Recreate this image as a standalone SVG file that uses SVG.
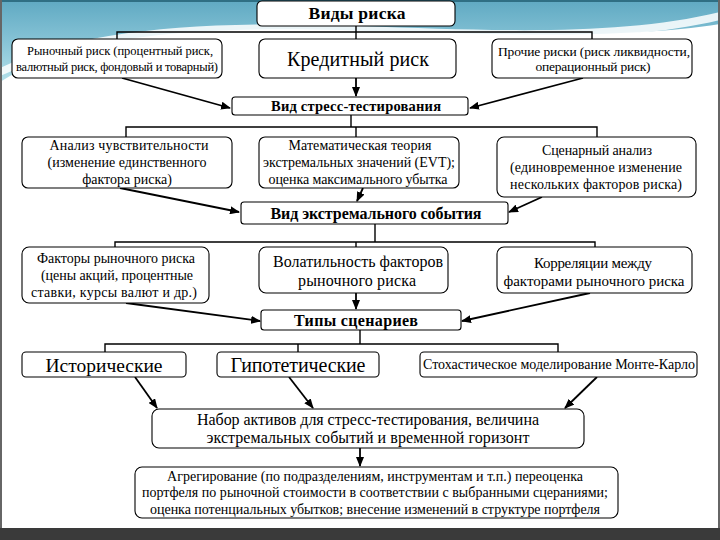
<svg xmlns="http://www.w3.org/2000/svg" width="720" height="540" viewBox="0 0 720 540">
<defs>
<linearGradient id="sky" x1="0" y1="0" x2="0" y2="1">
<stop offset="0" stop-color="#5fa9c2"/>
<stop offset="0.5" stop-color="#86c3d6"/>
<stop offset="1" stop-color="#b4e0ea"/>
</linearGradient>
<marker id="ah" markerUnits="userSpaceOnUse" markerWidth="10" markerHeight="8" refX="9" refY="4" orient="auto">
<path d="M0,0 L10,4 L0,8 z" fill="#000"/>
</marker>
<style>
.box{fill:#fff;stroke:#000;stroke-width:1.1}
.t{text-anchor:middle;fill:#000}
.b{font-weight:bold}
.tree{fill:none;stroke:#000;stroke-width:1.4}
.arr{fill:none;stroke:#000;stroke-width:1.8;marker-end:url(#ah)}
</style>
</defs>
<rect x="0" y="0" width="720" height="540" fill="#fff"/>
<path d="M0,0 H720 V24 C620,40 480,34 340,30 C190,26 70,36 0,82 Z" fill="url(#sky)"/>
<path d="M0,68 C80,30 200,20 360,26 C500,31 620,36 720,12 L720,20 C620,44 500,37 360,33 C200,28 90,38 0,76 Z" fill="#fff" opacity="0.85"/>
<path d="M380,34 C520,40 640,34 720,30 L720,36 C640,44 520,46 380,34 Z" fill="#fff" opacity="0.5"/>
<rect x="0" y="0" width="720" height="2" fill="#2f6f84"/>
<rect x="0" y="0" width="2" height="540" fill="#666"/>
<rect x="718" y="0" width="2" height="540" fill="#666"/>
<rect x="0" y="528" width="720" height="12" fill="#3a3a3a"/>

<g id="connectors">
<path class="tree" d="M356,26 V32 M117,39 V32 H592 V39 M356,32 V39"/>
<path class="arr" d="M122,78 L230,108"/>
<path class="arr" d="M356,78 V96"/>
<path class="arr" d="M583,78 L470,108"/>
<path class="tree" d="M351,115 V127 M126,137 V127 H597 V137 M356,127 V137"/>
<path class="arr" d="M120,188 L239,212"/>
<path class="arr" d="M363,188 L357,201"/>
<path class="arr" d="M542,197 L509,212"/>
<path class="tree" d="M375,224 V242 M115,247 V242 H595 V247 M356,242 V247"/>
<path class="arr" d="M126,303 L260,321"/>
<path class="arr" d="M356,293 V309"/>
<path class="arr" d="M590,293 L462,321"/>
<path class="tree" d="M360,330 V344 M105,352 V344 H558 V352 M298,344 V352"/>
<path class="arr" d="M135,377 L157,408"/>
<path class="arr" d="M289,377 L313,408"/>
<path class="arr" d="M597,377 L565,408"/>
<path class="arr" d="M360,448 V466"/>
</g>

<g id="nodes" font-family="Liberation Serif, Times New Roman, DejaVu Serif, serif">
<g id="n-vidy">
<rect class="box" x="257" y="1" width="198" height="25" rx="5"/>
<text class="t b" x="357" y="19" font-size="17.5" textLength="97">Виды риска</text>
</g>
<g id="n-market">
<rect class="box" x="12" y="39" width="210" height="39" rx="6"/>
<text class="t" x="120" y="55" font-size="12.5" textLength="186">Рыночный риск (процентный риск,</text>
<text class="t" x="117" y="71" font-size="12.5" textLength="202">валютный риск, фондовый и товарный)</text>
</g>
<g id="n-credit">
<rect class="box" x="259" y="39" width="197" height="39" rx="6"/>
<text class="t" x="358" y="66" font-size="20" textLength="142">Кредитный риск</text>
</g>
<g id="n-other">
<rect class="box" x="492" y="39" width="200" height="39" rx="6"/>
<text class="t" x="594" y="56" font-size="13.5" textLength="192">Прочие риски (риск ликвидности,</text>
<text class="t" x="593" y="71" font-size="13.5" textLength="115">операционный риск)</text>
</g>
<g id="n-stress">
<rect class="box" x="232" y="97" width="236" height="18" rx="3"/>
<text class="t b" x="356" y="111" font-size="14.5" textLength="170">Вид стресс-тестирования</text>
</g>
<g id="n-sens">
<rect class="box" x="22" y="137" width="210" height="51" rx="6"/>
<text class="t" x="129" y="150" font-size="14" textLength="159">Анализ чувствительности</text>
<text class="t" x="127" y="167" font-size="14" textLength="159">(изменение единственного</text>
<text class="t" x="127" y="184" font-size="14">фактора риска)</text>
</g>
<g id="n-evt">
<rect class="box" x="259" y="137" width="200" height="51" rx="6"/>
<text class="t" x="360" y="150" font-size="14" textLength="143">Математическая теория</text>
<text class="t" x="359" y="167" font-size="14" textLength="192">экстремальных значений (EVT);</text>
<text class="t" x="358" y="184" font-size="14" textLength="179">оценка максимального убытка</text>
</g>
<g id="n-scen">
<rect class="box" x="497" y="137" width="199" height="60" rx="7"/>
<text class="t" x="597" y="155" font-size="14" textLength="110">Сценарный анализ</text>
<text class="t" x="596" y="172" font-size="14" textLength="172">(единовременное изменение</text>
<text class="t" x="596" y="189" font-size="14" textLength="172">нескольких факторов риска)</text>
</g>
<g id="n-extreme">
<rect class="box" x="241" y="202" width="267" height="22" rx="3"/>
<text class="t b" x="376" y="219" font-size="16" textLength="211">Вид экстремального события</text>
</g>
<g id="n-factors">
<rect class="box" x="22" y="247" width="187" height="56" rx="7"/>
<text class="t" x="116" y="263" font-size="14" textLength="158">Факторы рыночного риска</text>
<text class="t" x="117" y="280" font-size="14" textLength="152">(цены акций, процентные</text>
<text class="t" x="114" y="297" font-size="14" textLength="166">ставки, курсы валют и др.)</text>
</g>
<g id="n-vol">
<rect class="box" x="259" y="247" width="189" height="46" rx="7"/>
<text class="t" x="358" y="267" font-size="16" textLength="170">Волатильность факторов</text>
<text class="t" x="357" y="286" font-size="16" textLength="118">рыночного риска</text>
</g>
<g id="n-corr">
<rect class="box" x="497" y="247" width="195" height="46" rx="7"/>
<text class="t" x="593" y="268" font-size="15" textLength="118">Корреляции между</text>
<text class="t" x="594" y="286" font-size="15" textLength="181">факторами рыночного риска</text>
</g>
<g id="n-types">
<rect class="box" x="261" y="310" width="200" height="20" rx="3"/>
<text class="t b" x="356" y="326" font-size="16" textLength="124">Типы сценариев</text>
</g>
<g id="n-hist">
<rect class="box" x="22" y="352" width="164" height="25" rx="4"/>
<text class="t" x="104" y="372" font-size="19.5" textLength="117">Исторические</text>
</g>
<g id="n-hyp">
<rect class="box" x="217" y="352" width="162" height="25" rx="4"/>
<text class="t" x="298" y="372" font-size="20" textLength="135">Гипотетические</text>
</g>
<g id="n-mc">
<rect class="box" x="420" y="352" width="277" height="25" rx="4"/>
<text class="t" x="559" y="369" font-size="14" textLength="272">Стохастическое моделирование Монте-Карло</text>
</g>
<g id="n-set">
<rect class="box" x="152" y="409" width="432" height="39" rx="7"/>
<text class="t" x="368" y="425" font-size="16" textLength="342">Набор активов для стресс-тестирования, величина</text>
<text class="t" x="368" y="443" font-size="16" textLength="323">экстремальных событий и временной горизонт</text>
</g>
<g id="n-agg">
<rect class="box" x="135" y="467" width="483" height="51" rx="7"/>
<text class="t" x="375" y="481" font-size="14" textLength="416">Агрегирование (по подразделениям, инструментам и т.п.) переоценка</text>
<text class="t" x="375" y="497" font-size="14" textLength="466">портфеля по рыночной стоимости в соответствии с выбранными сцераниями;</text>
<text class="t" x="375" y="514" font-size="14" textLength="450">оценка потенциальных убытков; внесение изменений в структуре портфеля</text>
</g>
</g>
</svg>
